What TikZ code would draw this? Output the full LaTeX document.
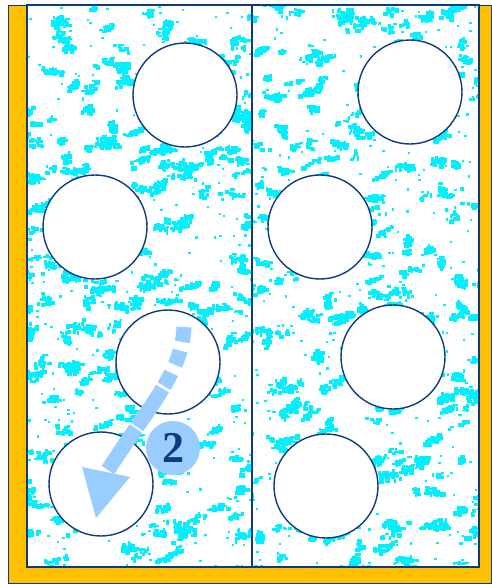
\documentclass[tikz,border=0pt]{standalone}
\usepackage{fontspec}
\newfontfamily\badgefont{Liberation Serif}
\usetikzlibrary{calc}
\definecolor{frameorange}{HTML}{FFC000}
\definecolor{navy}{HTML}{0E3A7E}
\definecolor{speck}{HTML}{00F0FF}
\definecolor{arrowblue}{HTML}{99CCFF}
\begin{document}
\begin{tikzpicture}[x=1pt,y=-1pt,
  hole/.style={circle,draw=navy,line width=1.4pt,fill=white,minimum size=104pt,inner sep=0pt},
  panel/.style={draw=navy,line width=1.8pt},
  badge/.style={circle,fill=arrowblue,minimum size=54pt,inner sep=0pt,text=navy,font=\badgefont\bfseries\fontsize{44}{46}\selectfont}]
\useasboundingbox (0,0) rectangle (491,584);
% orange frame
\fill[frameorange,draw=navy,line width=1pt] (8,5) -- (27,5) -- (27,567) -- (479,567) -- (479,5) -- (491,5) -- (491,583) -- (8,583) -- cycle;
% textures
\pgfmathsetseed{11}
\foreach \xa/\xb in {27/252,252/479}{
  \begin{scope}
    \clip (\xa,5) rectangle (\xb,567);
    \fill[white] (\xa,5) rectangle (\xb,567);
    \foreach \i in {1,...,230}{
      \pgfmathsetmacro{\px}{\xa-10+rnd*(\xb-\xa+20)}
      \pgfmathsetmacro{\py}{rnd*580}
      \pgfmathsetmacro{\sx}{3+rnd*13}
      \pgfmathsetmacro{\sy}{2+rnd*6}
      \pgfmathtruncatemacro{\n}{6+rnd*26}
      \pgfmathsetmacro{\sh}{-0.6+rnd*0.9}
      \foreach \j in {1,...,\n}{
        \pgfmathsetmacro{\dx}{(rnd+rnd-1)*\sx}
        \pgfmathsetmacro{\dy}{(rnd+rnd-1)*\sy}
        \pgfmathsetmacro{\qx}{\px+\dx}
        \pgfmathsetmacro{\qy}{\py+\dy+\sh*\dx}
        \pgfmathsetmacro{\w}{2+rnd*3.5}
        \pgfmathsetmacro{\h}{2+rnd*3}
        \fill[speck] (\qx,\qy) rectangle ++(\w,\h);
      }
    }
    \foreach \i in {1,...,300}{
      \pgfmathsetmacro{\px}{\xa+rnd*(\xb-\xa)}
      \pgfmathsetmacro{\py}{5+rnd*562}
      \fill[speck] (\px,\py) rectangle ++(2.5,2.2);
    }
  \end{scope}
}
\draw[panel] (27,5) rectangle (252,567);
\draw[panel] (252,5) rectangle (479,567);
% holes
\node[hole] (l1) at (185,95) {};
\node[hole] (l2) at (95,227) {};
\node[hole] (l3) at (168,362) {};
\node[hole] (l4) at (101,484) {};
\node[hole] (r1) at (410,92) {};
\node[hole] (r2) at (320,227) {};
\node[hole] (r3) at (393,357) {};
\node[hole] (r4) at (326,486) {};
% arrow
\coordinate (as) at (184,327);
\coordinate (ae) at (108,470);
\draw[arrowblue,line width=15pt,dash pattern=on 15pt off 9pt on 15pt off 9pt on 15pt off 3pt on 46pt off 2pt on 100pt]
  (as) .. controls (182,372) and (152,402) .. (ae);
\fill[arrowblue] (82,467) -- (130,477) -- (96,518) -- cycle;
\node[badge] (b2) at (173,448) {2};
\end{tikzpicture}
\end{document}
